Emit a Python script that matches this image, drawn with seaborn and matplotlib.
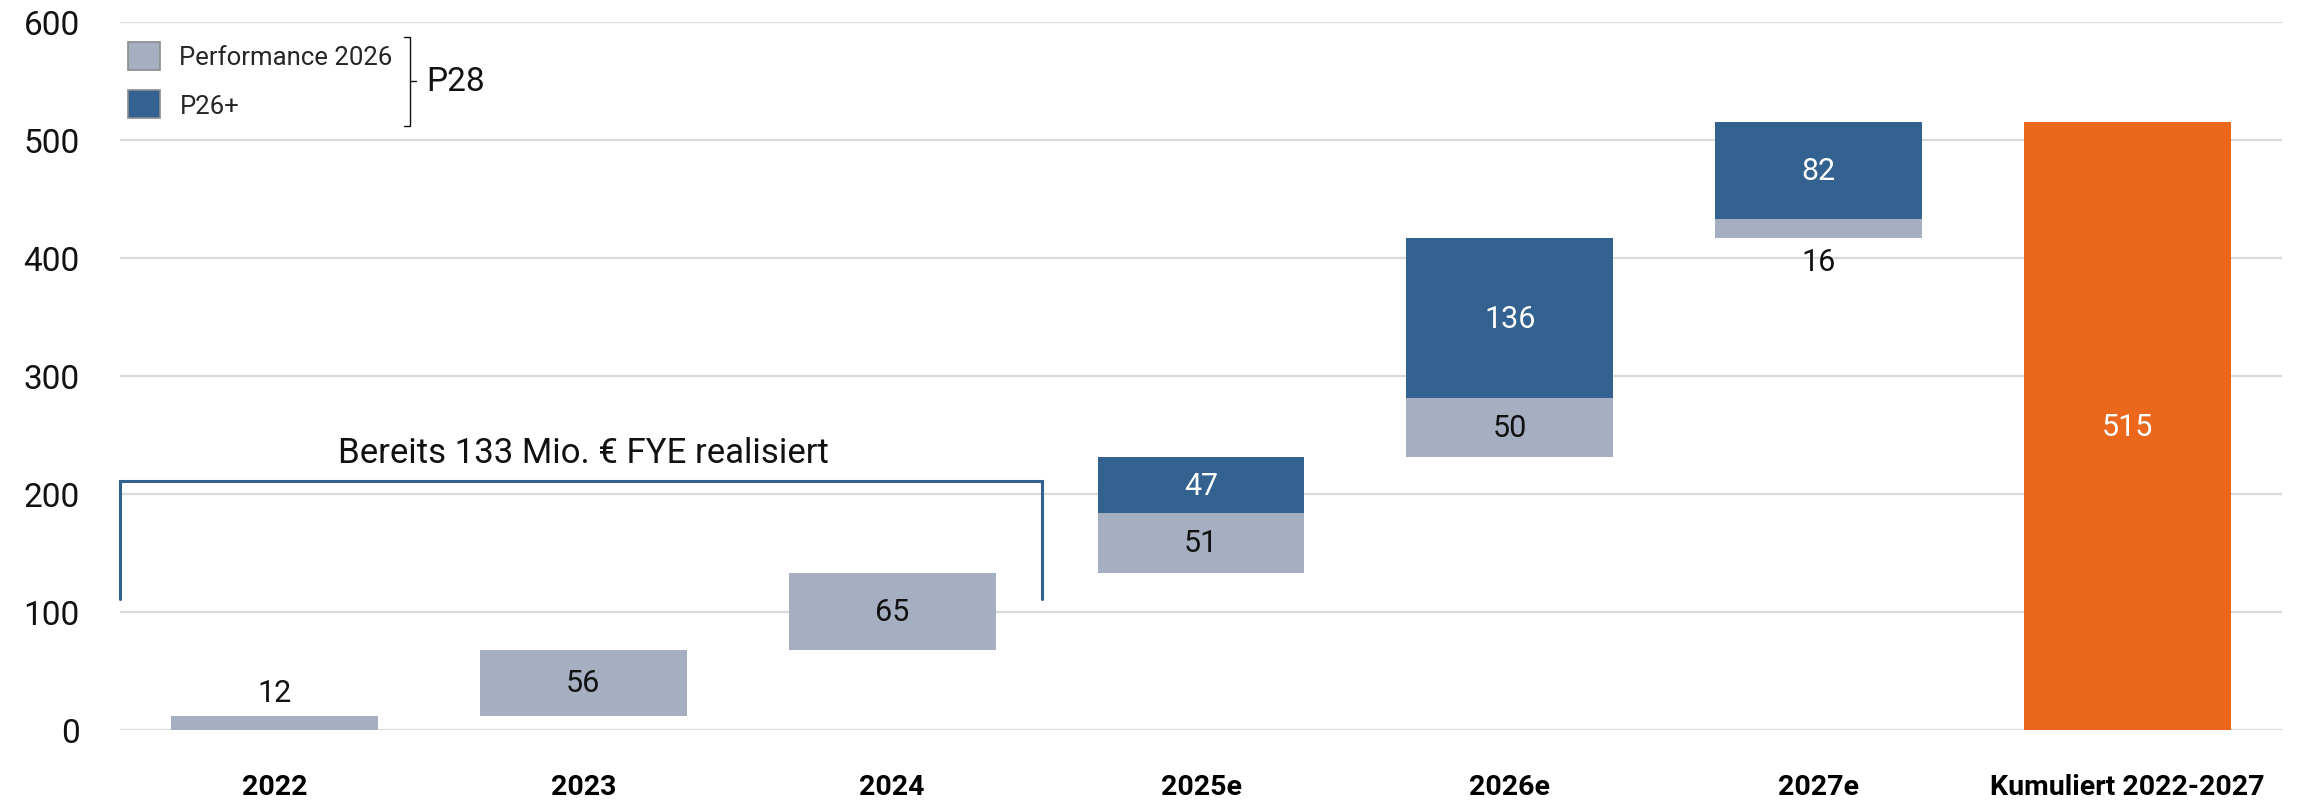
import matplotlib

matplotlib.use("Agg")
import matplotlib.pyplot as plt
import numpy as np
import pandas as pd
import seaborn as sns
from matplotlib import font_manager
from matplotlib.patches import Patch

# --- data -------------------------------------------------------------------
categories = ["2022", "2023", "2024", "2025e", "2026e", "2027e",
              "Kumuliert 2022-2027"]
perf_2026 = [12, 56, 65, 51, 50, 16, 0]     # Performance 2026
p26_plus = [0, 0, 0, 47, 136, 82, 0]        # P26+
cumulated = [0, 0, 0, 0, 0, 0, 515]         # total bar
realised_n = 3                              # first three years already realised

GREY = "#A5AFC1"
BLUE = "#336190"
ORANGE = "#EA671C"
GRID = "#D9D9D9"
TEXT = "#111111"

# waterfall bases
perf = np.array(perf_2026, dtype=float)
plus = np.array(p26_plus, dtype=float)
step = perf + plus
perf_base = np.concatenate([[0], np.cumsum(step)[:-1]])
perf_base[-1] = 0
plus_base = perf_base + perf

df = pd.DataFrame({"cat": categories, "perf": perf, "plus": plus,
                   "total": cumulated, "perf_base": perf_base,
                   "plus_base": plus_base})

# --- fonts ------------------------------------------------------------------
sns.set_theme(style="white")
plt.rcParams["font.family"] = ["Roboto", "DejaVu Sans"]
_names = {f.name for f in font_manager.fontManager.ttflist}
if "Liberation Sans Narrow" in _names:
    XFONT = dict(family="Liberation Sans Narrow", size=25, weight="bold")
else:
    XFONT = dict(family="Roboto", size=20.5, weight="bold")

# --- figure -----------------------------------------------------------------
fig = plt.figure(figsize=(22.98, 8.03), dpi=100)
ax = fig.add_axes([120 / 2298, 1 - 731 / 803, 2162 / 2298, 708 / 803])

ax.set_axisbelow(True)
ax.yaxis.grid(True, color=GRID, linewidth=1.6)
ax.xaxis.grid(False)


def _bars(col, base_col, color):
    n0 = len(ax.patches)
    sns.barplot(data=df, x="cat", y=col, order=categories, color=color,
                width=0.67, saturation=1, linewidth=0, ax=ax)
    for patch, base in zip(ax.patches[n0:], df[base_col]):
        patch.set_y(base)


_bars("perf", "perf_base", GREY)
_bars("plus", "plus_base", BLUE)
sns.barplot(data=df, x="cat", y="total", order=categories, color=ORANGE,
            width=0.67, saturation=1, linewidth=0, ax=ax)

ax.set_xlim(-0.5, len(categories) - 0.5)
ax.set_ylim(0, 600)
ax.set_yticks(np.arange(0, 601, 100))
ax.set_xlabel("")
ax.set_ylabel("")
sns.despine(ax=ax, left=True, bottom=True)
ax.tick_params(axis="y", length=0, pad=29, labelsize=24, labelcolor=TEXT)
ax.tick_params(axis="x", length=0, pad=31)
ax.set_xticks(range(len(categories)))
ax.set_xticklabels(categories, color="black", **XFONT)

# --- value labels -----------------------------------------------------------
LBL = dict(fontsize=22, ha="center", va="center")
for i, row in df.iterrows():
    if row.perf > 0:
        if row.perf >= 25:
            ax.text(i, row.perf_base + row.perf / 2, f"{row.perf:.0f}",
                    color=TEXT, **LBL)
        elif row.plus > 0:
            ax.annotate(f"{row.perf:.0f}", (i, row.perf_base),
                        xytext=(0, -17), textcoords="offset points",
                        color=TEXT, **LBL)
        else:
            ax.annotate(f"{row.perf:.0f}", (i, row.perf_base + row.perf),
                        xytext=(0, 17), textcoords="offset points",
                        color=TEXT, **LBL)
    if row.plus > 0:
        ax.text(i, row.plus_base + row.plus / 2, f"{row.plus:.0f}",
                color="white", **LBL)
    if row.total > 0:
        ax.text(i, row.total / 2, f"{row.total:.0f}", color="white", **LBL)

# --- "already realised" bracket ----------------------------------------------
realised = perf[:realised_n].sum()
bx = [-0.5, -0.5, realised_n - 0.515, realised_n - 0.515]
by = [111, 211, 211, 111]
ax.plot(bx, by, color=BLUE, linewidth=2.2, clip_on=False,
        solid_joinstyle="miter")
ax.text((realised_n - 1) / 2, 235,
        f"Bereits {realised:.0f} Mio. \u20ac FYE realisiert",
        fontsize=25, color=TEXT, ha="center", va="center")

# --- legend with P28 brace ----------------------------------------------------
handles = [Patch(facecolor=GREY, edgecolor="#8C8C8C", linewidth=1.2),
           Patch(facecolor=BLUE, edgecolor="#8C8C8C", linewidth=1.2)]
ax.legend(handles, ["Performance 2026", "P26+"], loc="upper left",
          bbox_to_anchor=(0.0037, 0.972), frameon=False, borderpad=0,
          borderaxespad=0, handlelength=1.25, handleheight=1.3,
          handletextpad=0.75, labelspacing=0.8, fontsize=18.5)

tr = ax.transAxes
xb, hook = 0.1342, 0.0028
ax.plot([xb - hook, xb, xb, xb - hook], [0.979, 0.979, 0.853, 0.853],
        transform=tr, color=TEXT, linewidth=1.0, clip_on=False)
ax.plot([xb, xb + hook], [0.916, 0.916], transform=tr, color=TEXT,
        linewidth=1.0, clip_on=False)
ax.text(xb + 0.0075, 0.916, "P28", transform=tr, fontsize=24, color=TEXT,
        ha="left", va="center")

fig.savefig("out.png", dpi=100)
